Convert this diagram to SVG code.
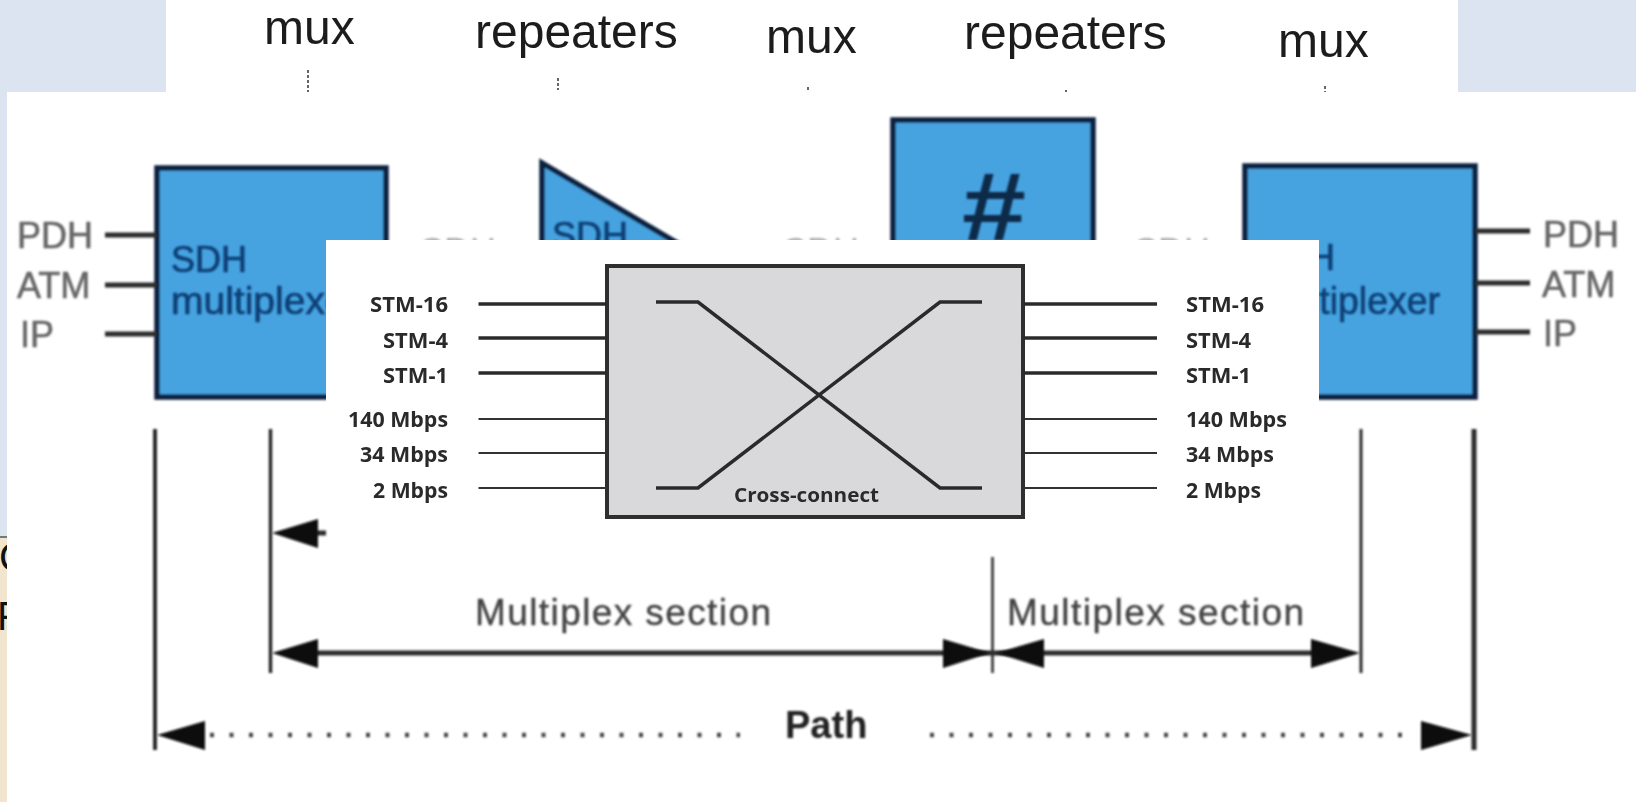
<svg xmlns="http://www.w3.org/2000/svg" width="1636" height="802" viewBox="0 0 1636 802">
<style>
.s{font-family:"Liberation Sans",Arial,sans-serif}
.top{font-size:48px;fill:#1c1c1c;filter:url(#b0)}
.io{font-size:36px;fill:#666;stroke:#666;stroke-width:.6;filter:url(#b1)}
.gap{font-size:36px;fill:#aaa;filter:url(#b1)}
.blk{font-size:36px;fill:#0a3f75;stroke:#0a3f75;stroke-width:.7;filter:url(#b1)}
.sec{font-size:37px;fill:#444;stroke:#444;stroke-width:.4;filter:url(#b1)}
.n{fill:#46a3e0;stroke:#0c2440;stroke-width:5.500;filter:url(#b1)}
.x{font-family:"Open Sans","Noto Sans",sans-serif;font-weight:700;font-size:21px;fill:#2b2b2b;filter:url(#b0)}
.dk{stroke:#2a2a2a;fill:none;filter:url(#b1)}
.in{stroke:#2b2b2b;fill:none;stroke-width:3.500;filter:url(#b0)}
.thin{stroke:#333;fill:none;stroke-width:2;filter:url(#b0)}
.ah{fill:#0a0a0a;filter:url(#b1)}
</style>
<defs>
<filter id="b0" x="-10%" y="-10%" width="120%" height="120%" filterUnits="objectBoundingBox"><feGaussianBlur stdDeviation="0.45"/></filter>
<filter id="b1" filterUnits="userSpaceOnUse" x="0" y="0" width="1636" height="802"><feGaussianBlur stdDeviation="0.9"/></filter>
</defs>
<rect width="1636" height="802" fill="#dbe4f0"/>
<rect y="537" width="7" height="265" fill="#f1e5cf"/>
<rect y="536" width="7" height="2" fill="#777"/>
<text class="s" x="-1" y="571" font-size="40" fill="#111">C</text>
<text class="s" x="-3" y="630" font-size="40" fill="#111">F</text>
<rect x="166" width="1292" height="92" fill="#fff"/>
<g id="top-labels" class="s">
<text class="s top" x="264" y="44">mux</text>
<text class="s top" x="475" y="48">repeaters</text>
<text class="s top" x="766" y="53">mux</text>
<text class="s top" x="964" y="49">repeaters</text>
<text class="s top" x="1278" y="57">mux</text>
</g>
<rect x="7" y="92" width="1629" height="710" fill="#fff"/>
<g id="io-left">
<text class="s io" x="17" y="248">PDH</text>
<text class="s io" x="17" y="298">ATM</text>
<text class="s io" x="20" y="347">IP</text>
</g>
<g id="io-right">
<text class="s io" x="1543" y="247">PDH</text>
<text class="s io" x="1542" y="297">ATM</text>
<text class="s io" x="1543" y="346">IP</text>
</g>
<g id="gap-labels">
<text class="s gap" x="420" y="264">SDH</text>
<text class="s gap" x="783" y="264">SDH</text>
<text class="s gap" x="1134" y="264">SDH</text>
</g>
<g id="mux-left">
<rect class="n" x="157" y="168" width="229" height="229"/>
<text class="s blk" x="171" y="272">SDH</text>
<text class="s blk" x="171" y="314" style="font-size:39px">multiplexer</text>
</g>
<g id="regenerator">
<polygon class="n" points="542,163 770,298 542,298"/>
<text class="s blk" x="552" y="248">SDH</text>
</g>
<g id="crossconnect-old">
<rect class="n" x="893" y="120" width="200" height="200"/>
<text class="s" x="962" y="240" font-size="96" font-weight="700" textLength="64" lengthAdjust="spacingAndGlyphs" fill="#0c2a4a" filter="url(#b1)">#</text>
</g>
<g id="mux-right">
<rect class="n" x="1245" y="166" width="230" height="231"/>
<text class="s blk" x="1259" y="270">SDH</text>
<text class="s blk" x="1259" y="314" style="font-size:39px" textLength="181" lengthAdjust="spacingAndGlyphs">multiplexer</text>
</g>
<g id="sections">
<text class="s sec" x="475" y="625" textLength="296">Multiplex section</text>
<text class="s sec" x="1007" y="625" textLength="297">Multiplex section</text>
<text class="s" x="785" y="738" font-size="38" font-weight="700" fill="#222" filter="url(#b1)">Path</text>
</g>
<rect id="inset-panel" x="326" y="240" width="993" height="317" fill="#fff"/>
<g id="crossconnect">
<rect x="607" y="266" width="416" height="251" fill="#d9d9db" stroke="#2f2f2f" stroke-width="4"/>
<text class="x" x="734" y="502" textLength="145" lengthAdjust="spacingAndGlyphs" style="font-size:20px">Cross-connect</text>
</g>
<g id="inset-labels-left">
<text class="x" x="370" y="312" textLength="78" lengthAdjust="spacingAndGlyphs">STM-16</text>
<text class="x" x="383" y="348" textLength="65" lengthAdjust="spacingAndGlyphs">STM-4</text>
<text class="x" x="383" y="383" textLength="65" lengthAdjust="spacingAndGlyphs">STM-1</text>
<text class="x" x="348" y="427" textLength="100" lengthAdjust="spacingAndGlyphs">140 Mbps</text>
<text class="x" x="360" y="462" textLength="88" lengthAdjust="spacingAndGlyphs">34 Mbps</text>
<text class="x" x="373" y="498" textLength="75" lengthAdjust="spacingAndGlyphs">2 Mbps</text>
</g>
<g id="inset-labels-right">
<text class="x" x="1186" y="312" textLength="78" lengthAdjust="spacingAndGlyphs">STM-16</text>
<text class="x" x="1186" y="348" textLength="65" lengthAdjust="spacingAndGlyphs">STM-4</text>
<text class="x" x="1186" y="383" textLength="65" lengthAdjust="spacingAndGlyphs">STM-1</text>
<text class="x" x="1186" y="427" textLength="101" lengthAdjust="spacingAndGlyphs">140 Mbps</text>
<text class="x" x="1186" y="462" textLength="88" lengthAdjust="spacingAndGlyphs">34 Mbps</text>
<text class="x" x="1186" y="498" textLength="75" lengthAdjust="spacingAndGlyphs">2 Mbps</text>
</g>
<g id="connectors">
<path d="M308 70V92M558 78V90M808 87V92M1325 86V92M1066 90V92" stroke="#333" stroke-width="1.500" stroke-dasharray="3 2" fill="none"/>
<path class="dk" stroke-width="5" d="M105 235H157M105 285H157M105 334H157M1475 231H1530M1475 283H1530M1475 332H1530"/>
<path class="dk" stroke-width="4" d="M155 429V750"/>
<path class="dk" stroke-width="3.500" d="M270.500 429V673"/>
<path class="dk" stroke-width="3" d="M1361 429V673"/>
<path class="dk" stroke-width="5" d="M1474 429V750"/>
<path class="dk" stroke-width="2.500" d="M992.500 557V673"/>
<path class="dk" stroke-width="5" d="M326 533H300M300 653H1330"/>
<path d="M210 735H740M930 735H1412" stroke="#444" stroke-width="4.500" stroke-dasharray="4 15.500" fill="none" filter="url(#b1)"/>
<polygon class="ah" points="272,533 318,519 318,548"/>
<polygon class="ah" points="272,653 318,639 318,668"/>
<polygon class="ah" points="990,653 943,639 943,668"/>
<polygon class="ah" points="996,653 1044,639 1044,668"/>
<polygon class="ah" points="1360,653 1311,639 1311,668"/>
<polygon class="ah" points="157,735 205,721 205,750"/>
<polygon class="ah" points="1472,735 1421,721 1421,750"/>
<path class="in" d="M478.500 304H607M478.500 338H607M478.500 373H607M1023 304H1157M1023 338H1157M1023 373H1157"/>
<path class="thin" d="M478.500 419H607M478.500 453H607M478.500 488H607M1023 419H1157M1023 453H1157M1023 488H1157"/>
<path class="in" stroke-width="3" d="M656 302H698L940 488H982M982 302H940L698 488H656"/>
</g>
</svg>
